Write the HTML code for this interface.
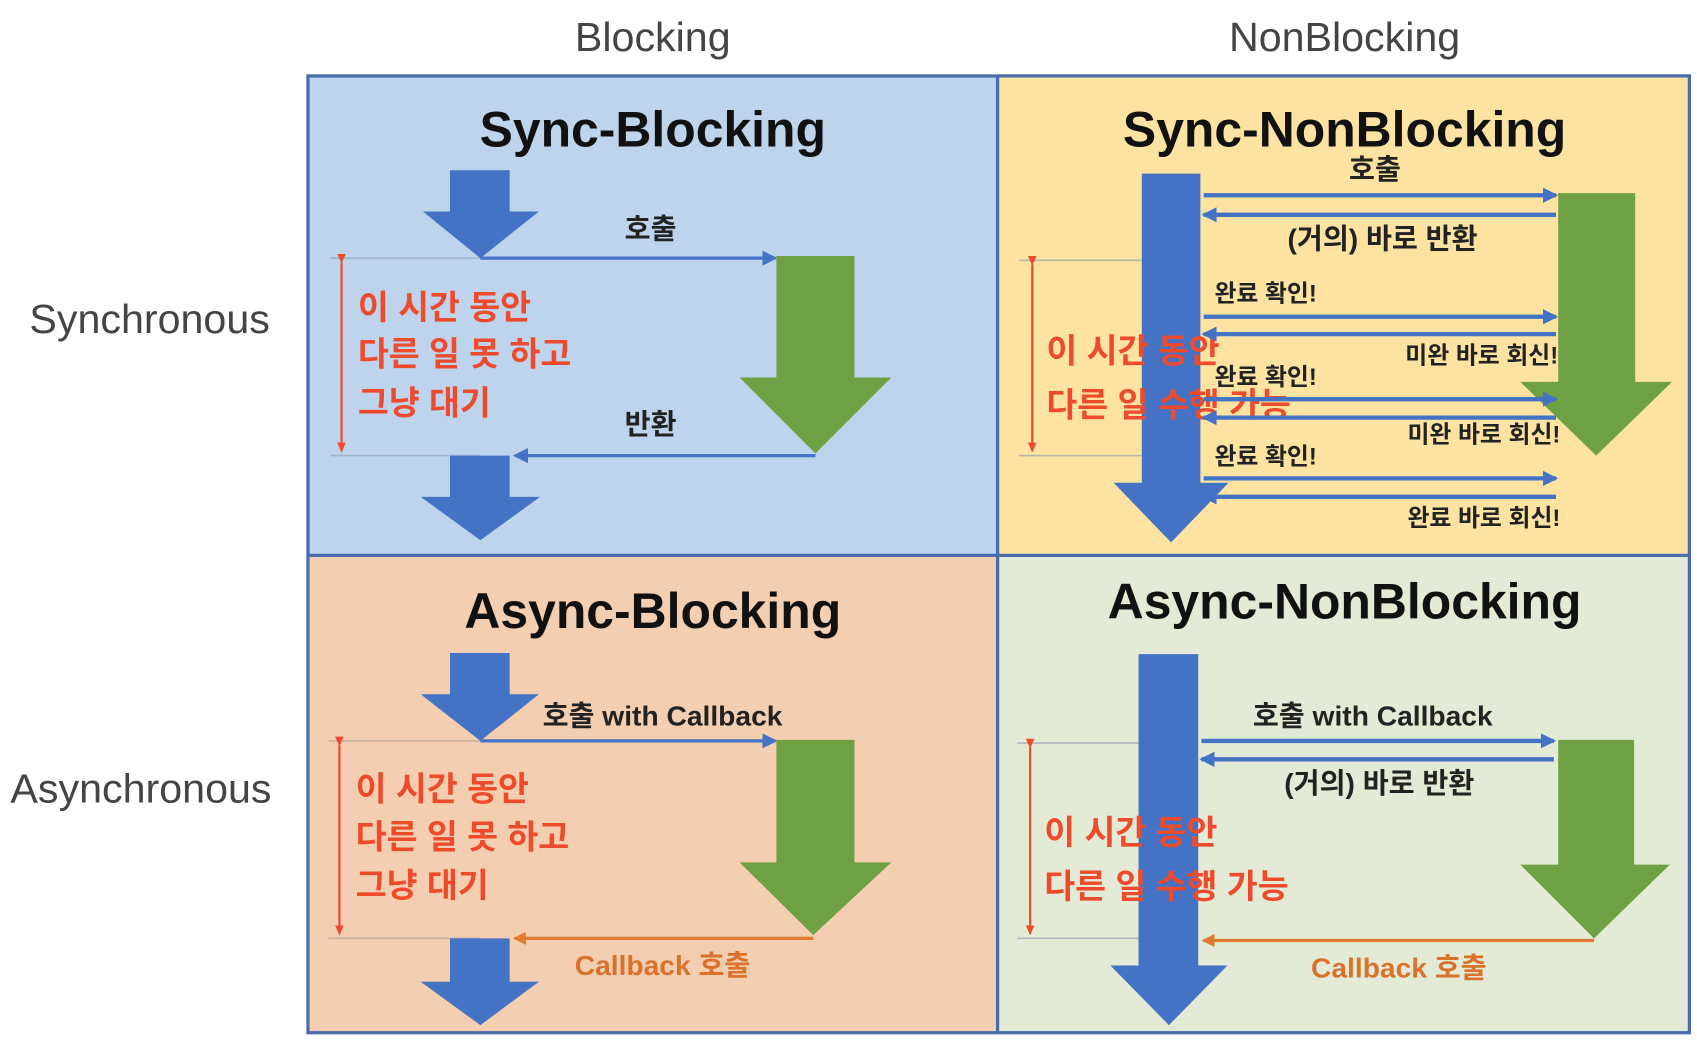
<!DOCTYPE html>
<html><head><meta charset="utf-8"><style>
html,body{margin:0;padding:0;background:#fff;}
svg{display:block;}
text{font-family:"Liberation Sans","Noto Sans CJK KR","NanumGothic",sans-serif;}
.t{font-weight:bold;font-size:46px;fill:#111;text-anchor:middle;}
.h{font-size:38px;fill:#444;text-anchor:middle;}
.r{font-weight:bold;font-size:31px;fill:#ee4a2c;}
.l{font-weight:bold;font-size:26px;fill:#222;text-anchor:middle;}
.s{font-weight:bold;font-size:22px;fill:#222;}
.o{font-weight:bold;font-size:26px;fill:#d8722c;text-anchor:middle;}
</style></head><body>
<svg width="1697" height="1062" viewBox="0 0 1565 979" preserveAspectRatio="none" xmlns="http://www.w3.org/2000/svg">
<defs>
<marker id="ab" markerWidth="8" markerHeight="8" refX="7" refY="4" orient="auto" markerUnits="userSpaceOnUse"><path d="M0,0 L8,4 L0,8 z" fill="#4472c4" transform="scale(1.6) translate(-3,-2)"/></marker>
<marker id="ao" markerWidth="14" markerHeight="14" refX="10" refY="6" orient="auto" markerUnits="userSpaceOnUse"><path d="M0,0 L12,6 L0,12 z" fill="#e07b30"/></marker>
<marker id="ar" markerWidth="10" markerHeight="10" refX="8" refY="4" orient="auto" markerUnits="userSpaceOnUse"><path d="M0,0 L9,4 L0,8 z" fill="#ee4a2c"/></marker>
<marker id="bb" markerWidth="16" markerHeight="14" refX="12" refY="7" orient="auto" markerUnits="userSpaceOnUse"><path d="M0,0 L14,7 L0,14 z" fill="#4472c4"/></marker>
</defs>
<text class="h" x="602" y="47">Blocking</text>
<text class="h" x="1240" y="47">NonBlocking</text>
<text class="h" x="138" y="307">Synchronous</text>
<text class="h" x="130" y="740">Asynchronous</text>

<rect x="284" y="70" width="636" height="442" fill="#bdd4ec"/>
<rect x="920" y="70" width="638" height="442" fill="#fce3a2"/>
<rect x="284" y="512" width="636" height="440" fill="#f4ceb0"/>
<rect x="920" y="512" width="638" height="440" fill="#e3ebd6"/>
<g stroke="#4a6cae" stroke-width="3" fill="none">
<rect x="284" y="70" width="1274" height="882"/>
<line x1="920" y1="70" x2="920" y2="952"/>
<line x1="284" y1="512" x2="1558" y2="512"/>
</g>

<!-- TL -->
<text class="t" x="602" y="135">Sync-Blocking</text>
<line x1="305" y1="238" x2="443" y2="238" stroke="#9fb4c8" stroke-width="1.5"/>
<line x1="305" y1="420" x2="443" y2="420" stroke="#9fb4c8" stroke-width="1.5"/>
<path d="M415,157 H470 V195 H497 L443,238 L390,195 H415 Z" fill="#4472c4"/>
<line x1="443" y1="238" x2="715" y2="238" stroke="#4472c4" stroke-width="3" marker-end="url(#bb)"/>
<text class="l" x="600" y="220">호출</text>
<path d="M716,236 H788 V348 H822 L752,418 L682,348 H716 Z" fill="#70a044"/>
<line x1="752" y1="420" x2="475" y2="420" stroke="#4472c4" stroke-width="3" marker-end="url(#bb)"/>
<text class="l" x="600" y="400">반환</text>
<path d="M415,420 H470 V458 H498 L443,498 L388,458 H415 Z" fill="#4472c4"/>
<line x1="315" y1="242" x2="315" y2="416" stroke="#ee4a2c" stroke-width="2" marker-end="url(#ar)" marker-start="url(#ar)"/>
<text class="r" x="330" y="294">이 시간 동안</text>
<text class="r" x="330" y="337">다른 일 못 하고</text>
<text class="r" x="330" y="382">그냥 대기</text>

<!-- TR -->
<text class="t" x="1240" y="135">Sync-NonBlocking</text>
<line x1="940" y1="240" x2="1053" y2="240" stroke="#b8b8a8" stroke-width="1.5"/>
<line x1="940" y1="420" x2="1053" y2="420" stroke="#b8b8a8" stroke-width="1.5"/>
<path d="M1437,178 H1508 V352 H1542 L1472,420 L1402,352 H1437 Z" fill="#70a044"/>
<path d="M1053,160 H1107 V445 H1133 L1080,500 L1027,445 H1053 Z" fill="#4472c4"/>
<line x1="952" y1="244" x2="952" y2="416" stroke="#ee4a2c" stroke-width="2" marker-end="url(#ar)" marker-start="url(#ar)"/>
<text class="r" x="965" y="334">이 시간 동안</text>
<text class="r" x="965" y="384">다른 일 수행 가능</text>
<g stroke="#4472c4" stroke-width="4">
<line x1="1110" y1="180" x2="1435" y2="180" marker-end="url(#bb)"/>
<line x1="1435" y1="198" x2="1110" y2="198" marker-end="url(#bb)"/>
<line x1="1110" y1="292" x2="1435" y2="292" marker-end="url(#bb)"/>
<line x1="1435" y1="308" x2="1110" y2="308" marker-end="url(#bb)"/>
<line x1="1110" y1="368" x2="1435" y2="368" marker-end="url(#bb)"/>
<line x1="1435" y1="385" x2="1110" y2="385" marker-end="url(#bb)"/>
<line x1="1110" y1="441" x2="1435" y2="441" marker-end="url(#bb)"/>
<line x1="1435" y1="458" x2="1110" y2="458" marker-end="url(#bb)"/>
</g>
<text class="l" x="1268" y="165">호출</text>
<text class="l" x="1275" y="229">(거의) 바로 반환</text>
<text class="s" x="1120" y="278">완료 확인!</text>
<text class="s" x="1296" y="335">미완 바로 회신!</text>
<text class="s" x="1120" y="355">완료 확인!</text>
<text class="s" x="1298" y="408">미완 바로 회신!</text>
<text class="s" x="1120" y="428">완료 확인!</text>
<text class="s" x="1298" y="485">완료 바로 회신!</text>

<!-- BL -->
<text class="t" x="602" y="579">Async-Blocking</text>
<line x1="303" y1="683" x2="443" y2="683" stroke="#c8b0a0" stroke-width="1.5"/>
<line x1="303" y1="865" x2="443" y2="865" stroke="#c8b0a0" stroke-width="1.5"/>
<path d="M415,602 H470 V640 H497 L443,683 L388,640 H415 Z" fill="#4472c4"/>
<line x1="443" y1="683" x2="715" y2="683" stroke="#4472c4" stroke-width="3" marker-end="url(#bb)"/>
<text class="l" x="611" y="669">호출 with Callback</text>
<path d="M716,682 H788 V795 H822 L750,862 L682,795 H716 Z" fill="#70a044"/>
<line x1="750" y1="865" x2="475" y2="865" stroke="#e07b30" stroke-width="3" marker-end="url(#ao)"/>
<text class="o" x="611" y="899">Callback 호출</text>
<path d="M415,865 H470 V905 H497 L443,945 L388,905 H415 Z" fill="#4472c4"/>
<line x1="313" y1="687" x2="313" y2="861" stroke="#ee4a2c" stroke-width="2" marker-end="url(#ar)" marker-start="url(#ar)"/>
<text class="r" x="328" y="738">이 시간 동안</text>
<text class="r" x="328" y="782">다른 일 못 하고</text>
<text class="r" x="328" y="827">그냥 대기</text>

<!-- BR -->
<text class="t" x="1240" y="570">Async-NonBlocking</text>
<line x1="938" y1="685" x2="1050" y2="685" stroke="#b0b8c0" stroke-width="1.5"/>
<line x1="938" y1="865" x2="1050" y2="865" stroke="#b0b8c0" stroke-width="1.5"/>
<path d="M1437,682 H1507 V797 H1540 L1470,865 L1402,797 H1437 Z" fill="#70a044"/>
<path d="M1050,603 H1105 V890 H1132 L1078,945 L1024,890 H1050 Z" fill="#4472c4"/>
<line x1="950" y1="689" x2="950" y2="861" stroke="#ee4a2c" stroke-width="2" marker-end="url(#ar)" marker-start="url(#ar)"/>
<text class="r" x="963" y="778">이 시간 동안</text>
<text class="r" x="963" y="828">다른 일 수행 가능</text>
<g stroke="#4472c4" stroke-width="4">
<line x1="1108" y1="683" x2="1433" y2="683" marker-end="url(#bb)"/>
<line x1="1433" y1="700" x2="1108" y2="700" marker-end="url(#bb)"/>
</g>
<text class="l" x="1266" y="669">호출 with Callback</text>
<text class="l" x="1272" y="731">(거의) 바로 반환</text>
<line x1="1470" y1="867" x2="1110" y2="867" stroke="#e07b30" stroke-width="3" marker-end="url(#ao)"/>
<text class="o" x="1290" y="901">Callback 호출</text>
</svg>
</body></html>
